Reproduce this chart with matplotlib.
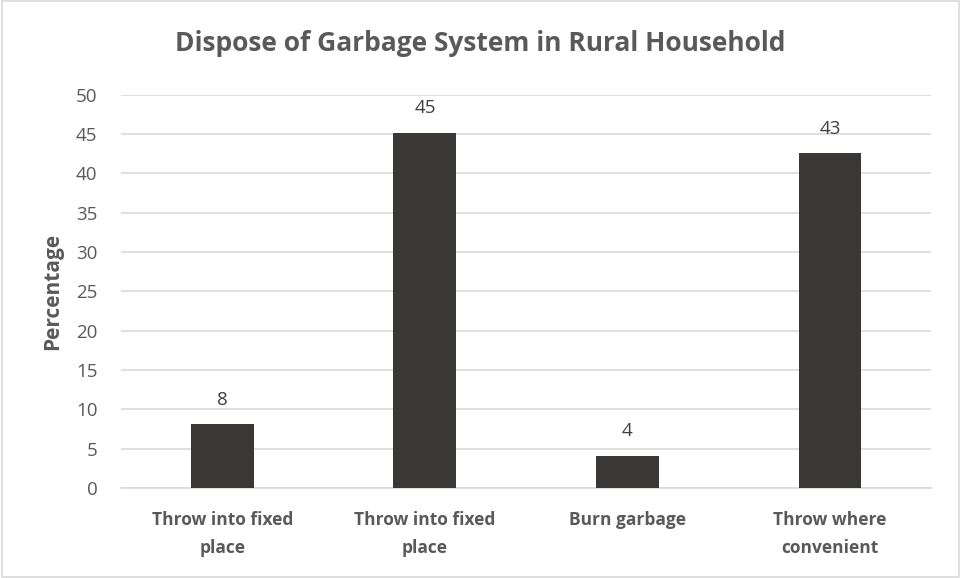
import matplotlib
matplotlib.use("Agg")
import matplotlib.pyplot as plt
from matplotlib.patches import Rectangle

categories = ["Throw into fixed\nplace", "Throw into fixed\nplace", "Burn garbage", "Throw where\nconvenient"]
values = [8.1, 45.2, 4.1, 42.6]
labels = ["8", "45", "4", "43"]
yticks = [0, 5, 10, 15, 20, 25, 30, 35, 40, 45, 50]

plt.rcParams['font.family'] = ['Open Sans', 'DejaVu Sans']
txt = '#595959'

fig = plt.figure(figsize=(9.61, 5.78), dpi=100)
fig.patches.append(Rectangle((0.002, 0.002), 0.996, 0.996, transform=fig.transFigure,
                             fill=False, edgecolor='#d9d9d9', linewidth=1.2))
ax = fig.add_axes([0.126, 0.156, 0.843, 0.680])
x = list(range(len(categories)))
bars = ax.bar(x, values, width=0.31, color='#3a3836', zorder=3)
for b, lab in zip(bars, labels):
    ax.annotate(lab, (b.get_x() + b.get_width() / 2, b.get_height()), xytext=(0, 11),
                textcoords='offset points', ha='center', va='bottom', fontsize=13.5, color='#404040')
ax.set_xlim(-0.5, len(categories) - 0.5)
ax.set_ylim(0, 50)
ax.set_yticks(yticks)
ax.yaxis.grid(True, color='#d9d9d9', linewidth=1.2, zorder=0)
ax.set_axisbelow(True)
for s in ['top', 'right', 'left']:
    ax.spines[s].set_visible(False)
ax.spines['bottom'].set_color('#d9d9d9')
ax.spines['bottom'].set_linewidth(1.2)
ax.tick_params(axis='both', length=0, colors=txt, labelsize=13.5)
ax.tick_params(axis='y', pad=17)
ax.set_xticks(x)
ax.set_xticklabels(categories, fontweight='bold', fontsize=12.5, color=txt, linespacing=1.7)
ax.tick_params(axis='x', pad=17)
ax.set_ylabel("Percentage", fontweight='bold', fontsize=15, color=txt, labelpad=9)
fig.text(0.5, 0.925, "Dispose of Garbage System in Rural Household", ha='center', va='center',
         fontsize=19, fontweight='bold', color=txt)
fig.savefig("out.png", dpi=100)
